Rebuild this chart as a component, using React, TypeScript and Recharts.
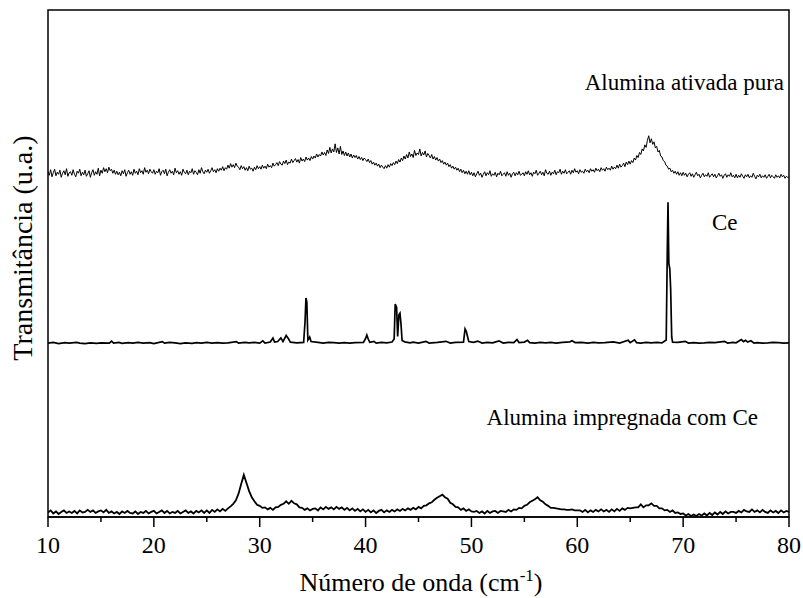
import React from 'react';
import { LineChart, Line, XAxis, YAxis, ReferenceArea } from 'recharts';

// Alumina ativada pura: 10..80 every 0.125 degree
const puraStart = 10;
const puraStep = 0.125;
const aluminaPura = [
  // 10-15
  68.2, 67.4, 68.5, 67.1, 67.9, 68.6, 67.3, 68.0, 67.6, 68.4, 67.0, 67.8, 68.3, 67.5, 68.7, 67.2, 67.9, 68.1, 67.4, 68.5,
  67.6, 67.1, 68.2, 67.8, 68.6, 67.3, 68.0, 67.5, 68.4, 67.2, 67.7, 68.3, 67.0, 67.9, 68.5, 67.4, 68.1, 67.6, 68.8, 67.3,
  // 15-20
  68.4, 67.8, 68.9, 68.1, 68.7, 67.9, 69.0, 68.3, 68.6, 67.8, 68.4, 67.6, 68.2, 67.5, 68.0, 67.3, 68.3, 67.7, 68.5, 67.2,
  67.9, 68.4, 67.6, 68.1, 67.4, 68.6, 67.8, 68.2, 67.5, 68.7, 67.9, 68.3, 67.6, 68.9, 68.0, 68.4, 67.7, 68.6, 68.1, 67.8,
  // 20-25
  68.5, 67.6, 68.2, 67.9, 68.7, 67.4, 68.1, 68.4, 67.7, 68.6, 67.3, 68.0, 68.5, 67.8, 68.2, 67.5, 68.8, 67.9, 68.3, 67.6,
  68.1, 67.4, 68.6, 68.0, 67.7, 68.4, 67.5, 68.2, 67.9, 68.7, 67.6, 68.3, 68.0, 67.5, 68.5, 67.8, 68.9, 68.1, 67.7, 68.4,
  // 25-30
  68.0, 68.6, 67.8, 68.3, 68.9, 68.1, 68.5, 67.9, 68.7, 68.2, 68.8, 68.4, 69.1, 68.3, 68.9, 68.6, 69.4, 68.8, 69.7, 69.0,
  69.5, 68.9, 69.8, 69.2, 69.0, 68.5, 69.3, 68.7, 69.1, 68.4, 68.9, 68.3, 69.2, 68.6, 68.8, 68.2, 69.0, 68.5, 69.3, 68.7,
  // 30-35
  69.1, 68.6, 69.4, 68.8, 69.2, 68.7, 69.6, 69.0, 69.3, 68.9, 69.8, 69.2, 69.5, 69.9, 69.3, 70.1, 69.6, 69.4, 70.2, 69.7,
  70.4, 69.5, 70.0, 69.8, 70.6, 69.9, 70.3, 70.7, 70.0, 70.5, 69.8, 70.9, 70.2, 70.6, 70.1, 71.0, 70.4, 70.8, 70.3, 71.1,
  // 35-40
  70.6, 71.2, 70.8, 71.6, 71.0, 71.5, 71.2, 72.0, 71.4, 71.9, 71.3, 72.4, 71.7, 72.9, 71.8, 72.6, 72.0, 73.6, 71.9, 72.8,
  71.6, 73.1, 71.5, 72.2, 71.3, 72.0, 71.2, 71.8, 71.0, 71.6, 70.8, 71.4, 70.9, 71.3, 70.6, 71.1, 70.5, 70.9, 70.3, 70.8,
  // 40-45
  70.5, 70.1, 70.6, 69.9, 70.3, 69.6, 70.0, 69.4, 69.8, 69.2, 69.6, 68.9, 69.4, 69.0, 68.7, 69.3, 68.8, 69.5, 69.0, 69.7,
  69.3, 69.9, 69.5, 70.2, 69.7, 70.5, 70.0, 70.8, 70.3, 71.2, 70.6, 71.5, 70.8, 72.0, 71.1, 71.6, 70.9, 72.3, 71.3, 71.8,
  // 45-50
  71.5, 72.6, 71.2, 71.9, 71.4, 72.2, 71.0, 71.7, 71.3, 70.8, 71.5, 70.6, 71.1, 70.4, 70.9, 70.2, 70.6, 69.9, 70.3, 69.6,
  70.0, 69.4, 69.8, 69.1, 69.5, 68.8, 69.2, 68.6, 69.0, 68.4, 68.8, 68.1, 68.6, 67.9, 68.4, 67.7, 68.2, 67.6, 68.3, 67.5,
  // 50-55
  68.0, 67.3, 67.9, 67.1, 67.7, 68.2, 67.4, 67.8, 67.0, 67.6, 68.1, 67.3, 67.9, 67.5, 68.3, 67.2, 67.7, 67.4, 68.0, 67.1,
  67.8, 67.5, 68.2, 67.3, 67.6, 67.9, 67.2, 68.1, 67.4, 67.8, 67.0, 67.7, 68.0, 67.3, 67.9, 67.5, 68.2, 67.4, 67.6, 67.9,
  // 55-60
  67.3, 68.1, 67.6, 68.3, 67.5, 67.9, 67.2, 68.0, 67.7, 68.4, 67.4, 67.8, 68.2, 67.5, 68.0, 67.3, 68.5, 67.8, 67.6, 68.2,
  67.4, 68.0, 67.7, 68.4, 67.5, 68.1, 67.9, 68.6, 67.6, 68.2, 67.8, 68.5, 67.7, 68.0, 68.3, 67.6, 68.4, 67.9, 68.7, 68.0,
  // 60-65
  68.3, 67.7, 68.5, 68.0, 68.2, 67.8, 68.6, 68.1, 68.4, 67.9, 68.7, 68.2, 68.5, 68.0, 68.8, 68.3, 68.6, 68.1, 68.9, 68.4,
  68.7, 68.2, 69.0, 68.5, 68.8, 68.4, 69.2, 68.6, 69.0, 68.7, 69.4, 68.8, 69.6, 69.0, 69.3, 69.8, 69.1, 70.0, 69.5, 70.2,
  // 65-70
  69.6, 70.3, 69.9, 70.8, 70.4, 71.3, 70.9, 71.9, 71.5, 72.6, 72.2, 73.4, 72.9, 74.3, 75.2, 73.8, 74.6, 73.5, 74.0, 72.8,
  73.1, 72.0, 72.3, 71.2, 71.0, 70.3, 70.1, 69.4, 69.2, 68.6, 68.8, 68.1, 68.4, 67.8, 68.2, 67.6, 68.1, 67.4, 67.9, 67.3,
  // 70-75
  68.0, 67.4, 67.8, 67.1, 67.6, 67.9, 67.2, 67.7, 67.0, 67.5, 68.0, 67.3, 67.6, 66.9, 67.4, 67.8, 67.1, 67.5, 67.2, 67.9,
  67.0, 67.4, 67.7, 67.1, 67.6, 66.9, 67.3, 67.8, 67.2, 67.5, 66.8, 67.4, 67.7, 67.0, 67.5, 67.2, 67.9, 67.1, 67.4, 66.9,
  // 75-80
  67.6, 66.9, 67.4, 67.0, 67.7, 67.2, 66.8, 67.5, 67.1, 67.6, 66.9, 67.3, 67.0, 67.8, 67.2, 66.7, 67.4, 67.1, 67.6, 66.9,
  67.3, 67.0, 67.5, 66.8, 67.2, 67.6, 66.9, 67.4, 67.1, 66.8, 67.5, 67.0, 67.3, 66.9, 67.6, 67.1, 67.4, 66.8, 67.2, 67.0,
  67.1,
];

// Alumina impregnada com Ce: 10..80 every 0.25 degree
const ceImpStart = 10;
const ceImpStep = 0.25;
const aluminaCe = [
  0.9, 1.3, 0.7, 1.1, 0.6, 1.0, 1.3, 0.8, 1.1, 0.8, 1.2, 0.7, 1.3, 0.9, 1.0, 1.4, 1.0, 1.3, 0.8, 1.1,
  1.3, 0.9, 1.4, 0.8, 1.1, 0.7, 1.0, 0.6, 1.1, 0.8, 1.2, 0.8, 0.7, 1.1, 0.6, 1.0, 0.8, 1.2, 0.7, 1.0,
  1.2, 0.7, 1.0, 1.3, 0.8, 1.2, 0.7, 1.0, 0.8, 1.2, 0.7, 1.0, 1.3, 0.8, 1.1, 0.7, 1.2, 0.9, 1.3, 0.8,
  1.3, 0.8, 1.4, 1.0, 1.5, 1.1, 1.6, 1.2, 1.7, 2.1, 2.6, 3.3, 4.6, 6.5, 8.3, 6.7, 5.1, 3.9, 3.1, 2.4,
  2.2, 1.8, 1.9, 1.5, 1.8, 1.4, 1.9, 2.0, 2.4, 2.6, 3.1, 2.6, 3.2, 2.7, 2.5, 1.9, 1.8, 1.4, 1.7, 1.3,
  1.6, 1.7, 1.3, 1.9, 1.5, 2.0, 1.6, 1.9, 1.5, 2.0, 1.6, 1.9, 1.4, 1.8, 1.3, 1.7, 1.2, 1.6, 1.1, 1.5,
  1.0, 1.4, 0.9, 1.3, 0.8, 1.2, 1.4, 0.9, 1.3, 1.0, 1.4, 1.1, 1.5, 1.2, 1.6, 1.3, 1.7, 1.4, 1.8, 1.5,
  2.0, 1.7, 2.2, 2.3, 2.7, 2.9, 3.4, 3.8, 4.1, 4.4, 3.9, 3.6, 2.8, 2.5, 2.0, 1.9, 1.4, 1.7, 1.2, 1.5,
  1.1, 1.0, 1.2, 0.8, 1.1, 0.7, 1.2, 0.8, 1.1, 1.2, 0.8, 1.2, 1.1, 1.0, 1.4, 1.1, 1.5, 1.4, 1.8, 1.7,
  2.2, 2.4, 2.9, 3.2, 3.5, 3.9, 3.3, 3.0, 2.5, 2.2, 1.8, 1.8, 1.7, 1.6, 1.5, 1.5, 1.4, 1.4, 1.5, 1.3,
  1.3, 1.3, 1.0, 1.4, 0.9, 1.3, 1.0, 1.4, 1.1, 1.5, 1.1, 1.4, 1.0, 1.5, 1.1, 1.6, 1.2, 1.7, 1.4, 1.8,
  1.7, 1.8, 1.9, 1.9, 2.5, 1.9, 2.3, 2.3, 2.7, 2.2, 2.2, 1.7, 1.7, 1.3, 1.4, 1.0, 1.3, 0.8, 0.9, 0.6,
  0.7, 0.3, 0.6, 0.2, 0.5, 0.2, 0.6, 0.3, 0.7, 0.3, 0.8, 0.4, 0.9, 0.5, 1.0, 0.6, 1.1, 0.7, 1.0, 1.0,
  0.8, 1.2, 0.9, 1.4, 1.1, 1.0, 1.5, 1.0, 1.3, 0.9, 1.4, 1.0, 0.8, 1.3, 0.9, 1.2, 0.8, 1.3, 0.9, 1.2,
  1.0,
];

// Ce: [angle, intensity]
const cePattern: [number, number][] = [
  [10, 34.3], [10.5, 34.45], [11, 34.2], [11.6, 34.4], [12, 34.3], [12.7, 34.45], [13, 34.3], [13.5, 34.2], [14, 34.35],
  [14.6, 34.25], [15, 34.35], [15.8, 34.3], [16.0, 34.7], [16.2, 34.3], [16.7, 34.45], [17, 34.25], [17.6, 34.4],
  [18, 34.3], [18.5, 34.45], [19, 34.3], [19.6, 34.4], [20, 34.2], [20.8, 34.6], [21, 34.3], [21.5, 34.45], [22, 34.35],
  [22.5, 34.2], [23, 34.35], [23.6, 34.25], [24, 34.4], [24.5, 34.3], [25, 34.45], [25.5, 34.3], [26, 34.4], [26.5, 34.3],
  [27, 34.35], [27.8, 34.6], [28, 34.3], [28.6, 34.45], [29, 34.35], [29.5, 34.45], [30, 34.3], [30.3, 34.75],
  [30.5, 34.3], [31.0, 34.5], [31.25, 35.3], [31.4, 34.5], [31.7, 34.6], [32.0, 35.3], [32.2, 34.6], [32.5, 35.8],
  [32.7, 35.2], [32.9, 34.5], [33.5, 34.35], [34.15, 34.45], [34.28, 38.5], [34.37, 43.2], [34.45, 42.4], [34.55, 34.9],
  [34.72, 35.5], [34.85, 34.6], [35.5, 34.45], [36, 34.3], [36.5, 34.45], [37, 34.4], [37.5, 34.3], [38, 34.4],
  [38.5, 34.3], [39, 34.4], [39.8, 34.45], [40.0, 35.2], [40.12, 35.9], [40.25, 35.1], [40.4, 34.45], [40.8, 34.65],
  [41, 34.3], [41.5, 34.45], [42, 34.35], [42.5, 34.5], [42.7, 35.1], [42.8, 42.0], [42.93, 41.4], [43.03, 35.6],
  [43.15, 39.9], [43.25, 40.2], [43.35, 38.0], [43.45, 34.8], [43.7, 34.55], [44.2, 34.35], [44.5, 34.5], [45, 34.3],
  [45.7, 34.65], [46, 34.3], [46.8, 34.45], [47.6, 34.65], [48, 34.3], [48.5, 34.45], [49.25, 34.5], [49.4, 37.1],
  [49.52, 36.6], [49.62, 35.7], [49.75, 34.6], [50.2, 34.45], [50.6, 34.7], [51, 34.3], [51.5, 34.45], [52, 34.35],
  [52.6, 34.75], [53, 34.3], [53.5, 34.45], [54, 34.4], [54.3, 35.0], [54.5, 34.4], [55.0, 34.5], [55.3, 34.85],
  [55.5, 34.4], [56, 34.3], [56.5, 34.45], [57, 34.35], [57.5, 34.45], [58, 34.3], [58.6, 34.45], [59.3, 34.55],
  [59.5, 34.75], [59.8, 34.4], [60.4, 34.45], [61, 34.3], [61.5, 34.45], [62, 34.35], [62.6, 34.4], [63.4, 34.55],
  [64, 34.3], [64.8, 34.85], [65.0, 34.4], [65.4, 34.95], [65.6, 34.4], [66, 34.3], [66.5, 34.45], [67, 34.35],
  [67.5, 34.45], [68, 34.35], [68.4, 34.9], [68.5, 52.0], [68.57, 62.1], [68.65, 50.0], [68.74, 48.9], [68.82, 45.0],
  [68.92, 35.5], [69.0, 34.5], [69.5, 34.45], [70.2, 34.65], [70.5, 34.3], [71, 34.4], [71.5, 34.3], [72, 34.35],
  [72.5, 34.45], [73, 34.4], [73.9, 34.65], [74.2, 34.3], [74.7, 34.45], [75, 34.35], [75.5, 35.0], [75.7, 34.6],
  [75.9, 34.85], [76.1, 34.5], [76.4, 34.75], [76.7, 34.3], [77, 34.4], [77.5, 34.3], [78, 34.35], [78.5, 34.45],
  [79, 34.4], [79.5, 34.3], [80, 34.35],
];

const xTicks = [10, 15, 20, 25, 30, 35, 40, 45, 50, 55, 60, 65, 70, 75, 80];

const seriesLabels = ['Alumina ativada pura', 'Ce', 'Alumina impregnada com Ce'];
const xTitle = 'Número de onda (cm';
const xTitleSup = '-1';
const yTitle = 'Transmitância (u.a.)';

const FONT = 'Liberation Serif';

const topData = aluminaPura.map((y, i) => ({ x: puraStart + i * puraStep, y }));
const bottomData = aluminaCe.map((y, i) => ({ x: ceImpStart + i * ceImpStep, y }));
const ceData = cePattern.map(([x, y]) => ({ x, y }));

const Tick = (props: any) => {
  const { x, y, payload } = props;
  const major = payload.value % 10 === 0;
  return (
    <g>
      <line x1={x} x2={x} y1={y} y2={y + (major ? 10 : 5)} stroke="#000" strokeWidth={1.5} />
      {major && (
        <text x={x} y={y + 36} textAnchor="middle" fontFamily={FONT} fontSize={24} fill="#000">
          {payload.value}
        </text>
      )}
    </g>
  );
};

export default function App() {
  return (
    <div style={{ position: 'fixed', left: 0, top: 0, width: 803, height: 598, background: '#fff' }}>
      <LineChart width={803} height={598} margin={{ top: 10, right: 14, left: 48, bottom: 41 }}>
        <XAxis
          type="number"
          dataKey="x"
          domain={[10, 80]}
          ticks={xTicks}
          interval={0}
          tick={<Tick />}
          tickLine={false}
          tickSize={0}
          tickMargin={0}
          axisLine={{ stroke: '#000', strokeWidth: 1.5 }}
          height={40}
          allowDataOverflow
        />
        <YAxis type="number" domain={[0, 100]} hide allowDataOverflow />
        <ReferenceArea x1={10} x2={80} y1={0} y2={100} fill="none" stroke="#000" strokeWidth={1.5} />
        <Line data={topData} dataKey="y" type="linear" dot={false} stroke="#000" strokeWidth={1} isAnimationActive={false} />
        <Line data={ceData} dataKey="y" type="linear" dot={false} stroke="#000" strokeWidth={1.7} isAnimationActive={false} />
        <Line data={bottomData} dataKey="y" type="linear" dot={false} stroke="#000" strokeWidth={1.8} isAnimationActive={false} />
      </LineChart>
      <svg width={803} height={598} style={{ position: 'absolute', left: 0, top: 0, pointerEvents: 'none' }}>
        <text x={784} y={90} textAnchor="end" fontFamily={FONT} fontSize={23} fill="#000">{seriesLabels[0]}</text>
        <text x={712} y={230} fontFamily={FONT} fontSize={23} fill="#000">{seriesLabels[1]}</text>
        <text x={758} y={425} textAnchor="end" fontFamily={FONT} fontSize={23} fill="#000">{seriesLabels[2]}</text>
        <text x={421} y={591} textAnchor="middle" fontFamily={FONT} fontSize={26} fill="#000">
          <tspan>{xTitle}</tspan>
          <tspan dy={-10} fontSize={17}>{xTitleSup}</tspan>
          <tspan dy={10}>)</tspan>
        </text>
        <text transform="translate(32,248) rotate(-90)" textAnchor="middle" fontFamily={FONT} fontSize={28} fill="#000">
          {yTitle}
        </text>
      </svg>
    </div>
  );
}
